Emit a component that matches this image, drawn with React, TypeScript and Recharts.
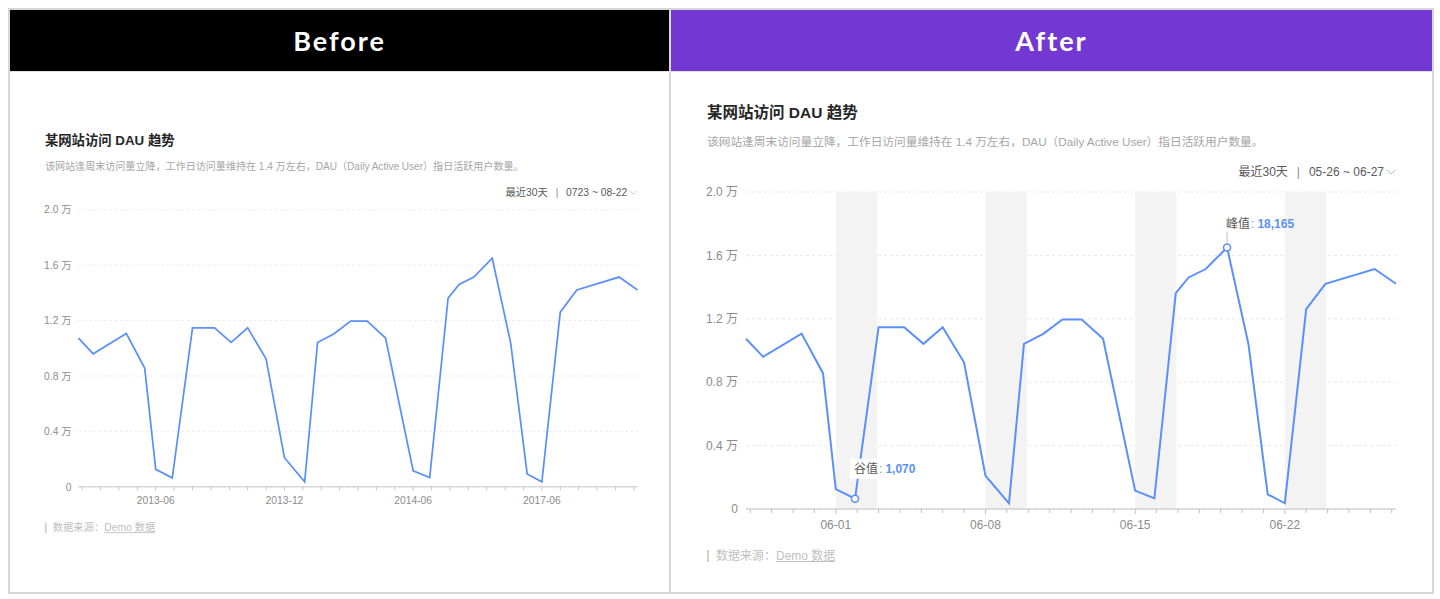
import React from "react";
import {
  LineChart,
  Line,
  XAxis,
  YAxis,
  CartesianGrid,
  ReferenceArea,
  ReferenceDot,
} from "recharts";

// x position of every vertex, in days counted from 05-28
const days = [
  -0.2, 0.6, 2.4, 3.4, 4.0, 4.9, 6.0, 7.2, 8.1, 9.0, 10.0, 11.0, 12.1, 12.8,
  13.7, 14.6, 15.5, 16.5, 18.0, 18.9, 19.9, 20.5, 21.3, 22.3, 23.3, 24.2, 25.0,
  26.0, 26.9, 29.2, 30.2,
];
const dau = [
  10740, 9600, 11070, 8570, 1260, 650, 11470, 11470, 10420, 11470, 9240, 2100,
  360, 10420, 11050, 11960, 11960, 10740, 1160, 670, 13620, 14610, 15140, 16500,
  10400, 930, 360, 12610, 14210, 15140, 14210,
];

const yTicks = [0, 4000, 8000, 12000, 16000, 20000];
const dayTicks = [
  0, 1, 2, 3, 4, 5, 6, 7, 8, 9, 10, 11, 12, 13, 14, 15, 16, 17, 18, 19, 20, 21,
  22, 23, 24, 25, 26, 27, 28, 29, 30,
];
const labelDays = [4, 11, 18, 25];
const afterLabels = ["06-01", "06-08", "06-15", "06-22"];
const beforeLabels = ["2013-06", "2013-12", "2014-06", "2017-06"];
const weekends = [
  [4, 5.93],
  [11, 12.93],
  [18, 19.93],
  [25, 26.93],
];
const marks = [
  { index: 5, kind: "valley", name: "谷值", text: "1,070" },
  { index: 23, kind: "peak", name: "峰值", text: "18,165" },
];

const data = days.map((day, i) => ({ day, dau: dau[i] }));

const BLUE = "#5B8FF9";
const FONT = '"Liberation Sans", "Noto Sans CJK SC", sans-serif';

const fmtY = (v: number) => (v === 0 ? "0" : `${(v / 10000).toFixed(1)} 万`);

function makeTick(labels: string[]) {
  return (props: any) => {
    const { x, y, payload } = props;
    const k = labelDays.indexOf(payload.value);
    return (
      <g>
        <line x1={x} x2={x} y1={y} y2={y + (k >= 0 ? 5 : 4)} stroke="#bfbfbf" />
        {k >= 0 && (
          <text x={x} y={y + 20} textAnchor="middle" fill="#8c8c8c" fontSize={12}>
            {labels[k]}
          </text>
        )}
      </g>
    );
  };
}

function Mark({ cx, cy, kind, name, text }: any) {
  const peak = kind === "peak";
  const ty = peak ? cy - 24 : cy - 30;
  return (
    <g>
      {peak && <line x1={cx} x2={cx} y1={cy - 4} y2={cy - 16} stroke="#bfbfbf" />}
      {!peak && <rect x={cx - 5} y={ty - 10} width={68} height={20} fill="#fff" />}
      <text x={cx - 1} y={ty} dy="0.35em" fontSize={12}>
        <tspan fill="#595959">{name}</tspan>
        <tspan fill="#8c8c8c" dx={1}>:</tspan>
        <tspan fill={BLUE} dx={3} fontWeight={600}>
          {text}
        </tspan>
      </text>
      <circle cx={cx} cy={cy} r={3.5} fill="#fff" stroke={BLUE} strokeWidth={1.5} />
    </g>
  );
}

function DauCard({
  range,
  labels,
  annotate,
}: {
  range: string;
  labels: string[];
  annotate: boolean;
}) {
  return (
    <div style={{ position: "relative", width: 761, height: 521, fontFamily: FONT }}>
      <div
        style={{
          position: "absolute",
          left: 36,
          top: 32,
          lineHeight: "20px",
          fontSize: 15.5,
          fontWeight: 700,
          color: "#262626",
          whiteSpace: "nowrap",
        }}
      >
        某网站访问 DAU 趋势
      </div>
      <div
        style={{
          position: "absolute",
          left: 36,
          top: 61,
          lineHeight: "20px",
          fontSize: 11.7,
          color: "#a6a6a6",
          whiteSpace: "nowrap",
        }}
      >
        该网站逢周末访问量立降，工作日访问量维持在 1.4 万左右，DAU（Daily Active
        User）指日活跃用户数量。
      </div>
      <div
        style={{
          position: "absolute",
          right: 36,
          top: 91,
          lineHeight: "20px",
          fontSize: 12,
          color: "#595959",
          whiteSpace: "nowrap",
          display: "flex",
          alignItems: "center",
        }}
      >
        <span>最近30天</span>
        <span style={{ margin: "0 9px", color: "#8c8c8c" }}>|</span>
        <span>{range}</span>
        <svg width={10} height={8} style={{ marginLeft: 2 }}>
          <polyline points="1,2 5,6 9,2" fill="none" stroke="#bfbfbf" strokeWidth={1} />
        </svg>
      </div>
      <div style={{ position: "absolute", left: 0, top: 109 }}>
        <LineChart
          width={761}
          height={370}
          data={data}
          margin={{ top: 12, right: 36, bottom: 0, left: 0 }}
        >
          {annotate &&
            weekends.map(([a, b], i) => (
              <ReferenceArea
                key={i}
                x1={a}
                x2={b}
                fill="#f3f3f3"
                fillOpacity={1}
                stroke="none"
              />
            ))}
          <CartesianGrid vertical={false} stroke="#e8e8e8" strokeDasharray="3 3" />
          <XAxis
            dataKey="day"
            type="number"
            domain={["dataMin", "dataMax"]}
            ticks={dayTicks}
            interval={0}
            height={41}
            tickSize={0}
            tickMargin={0}
            tickLine={false}
            axisLine={{ stroke: "#bfbfbf" }}
            tick={makeTick(labels)}
          />
          <YAxis
            domain={[0, 20000]}
            ticks={yTicks}
            width={75}
            tickSize={0}
            tickMargin={8}
            axisLine={false}
            tickLine={false}
            tickFormatter={fmtY}
            tick={{ fill: "#8c8c8c", fontSize: 12 }}
          />
          <Line
            type="linear"
            dataKey="dau"
            stroke={BLUE}
            strokeWidth={2}
            dot={false}
            activeDot={false}
            isAnimationActive={false}
          />
          {annotate &&
            marks.map((m) => (
              <ReferenceDot
                key={m.kind}
                x={days[m.index]}
                y={dau[m.index]}
                r={4}
                shape={(p: any) => <Mark {...p} {...m} />}
              />
            ))}
        </LineChart>
      </div>
      <div
        style={{
          position: "absolute",
          left: 36,
          top: 475,
          lineHeight: "20px",
          fontSize: 12,
          color: "#bfbfbf",
          whiteSpace: "nowrap",
          display: "flex",
          alignItems: "center",
        }}
      >
        <span
          style={{ width: 2, height: 12, background: "#d0d0d0", marginRight: 7, display: "inline-block" }}
        />
        <span>数据来源：</span>
        <span style={{ textDecoration: "underline" }}>Demo 数据</span>
      </div>
    </div>
  );
}

const headerStyle: React.CSSProperties = {
  position: "absolute",
  top: 10,
  height: 61,
  color: "#fff",
  display: "flex",
  alignItems: "center",
  justifyContent: "center",
  fontFamily: "Lato, sans-serif",
  fontWeight: 700,
  fontSize: 27,
  letterSpacing: 2,
};

export default function App() {
  return (
    <div
      style={{
        position: "absolute",
        left: 0,
        top: 0,
        width: 1440,
        height: 599,
        background: "#fff",
        overflow: "hidden",
      }}
    >
      <div
        style={{
          position: "absolute",
          left: 8,
          top: 8,
          width: 1426,
          height: 586,
          border: "2px solid #d6d6d6",
          boxSizing: "border-box",
        }}
      />
      <div style={{ ...headerStyle, left: 10, width: 659, background: "#000" }}>Before</div>
      <div style={{ ...headerStyle, left: 671, width: 761, background: "#7438d2" }}>After</div>
      <div style={{ position: "absolute", left: 669, top: 10, width: 2, height: 582, background: "#d6d6d6" }} />
      <div style={{ position: "absolute", left: 10, top: 71, width: 1422, height: 1, background: "#e3e3e3" }} />
      <div
        style={{
          position: "absolute",
          left: 13.5,
          top: 104.3,
          transform: "scale(0.86, 0.874)",
          transformOrigin: "0 0",
        }}
      >
        <DauCard range="0723 ~ 08-22" labels={beforeLabels} annotate={false} />
      </div>
      <div style={{ position: "absolute", left: 671, top: 71 }}>
        <DauCard range="05-26 ~ 06-27" labels={afterLabels} annotate={true} />
      </div>
    </div>
  );
}
